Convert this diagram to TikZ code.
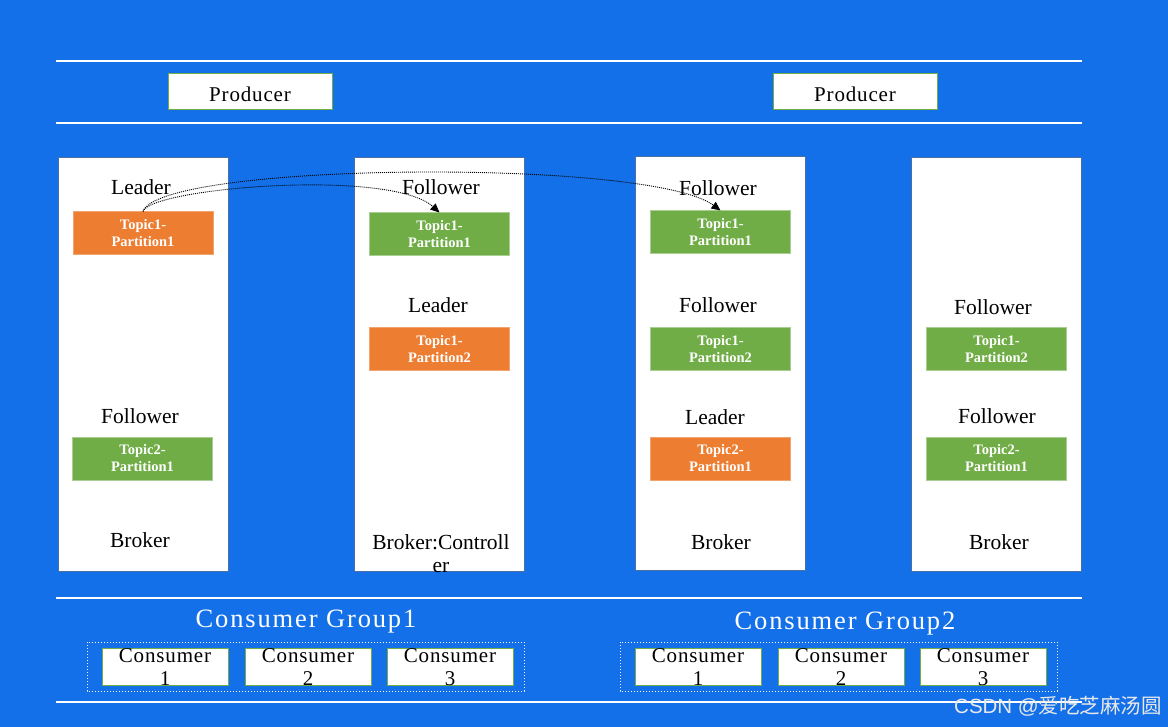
\documentclass[tikz,border=0pt]{standalone}
\usepackage{fontspec}
\setmainfont{Liberation Serif}
\newfontfamily\cjkfont{Noto Sans CJK SC}
\newfontfamily\wmfont{Liberation Sans}
\usetikzlibrary{arrows.meta}
\definecolor{bg}{HTML}{1470E8}
\definecolor{orangep}{HTML}{ED7D31}
\definecolor{greenp}{HTML}{70AD47}
\definecolor{brokerborder}{HTML}{4A6FA5}
\begin{document}
\begin{tikzpicture}[x=1pt,y=-1pt,
  broker/.style={draw=brokerborder,fill=white,line width=0.8pt,minimum width=170pt,minimum height=414pt,inner sep=0pt},
  part/.style={minimum width=140pt,minimum height=43pt,inner sep=0pt,text=white,font=\bfseries\fontsize{14.5}{17}\selectfont,align=center,line width=1pt},
  orangebox/.style={part,fill=orangep,draw=orangep!70!white},
  greenbox/.style={part,fill=greenp,draw=greenp!60!white},
  lbl/.style={font=\fontsize{21.5}{23}\selectfont,inner sep=0pt,align=center},
  clbl/.style={font=\fontsize{21}{23}\selectfont\addfontfeature{LetterSpace=4},inner sep=0pt,align=center},
  prod/.style={draw=greenp,fill=white,line width=1pt,minimum width=164pt,minimum height=36pt,inner sep=0pt},
  ptext/.style={font=\fontsize{21}{24}\selectfont\addfontfeature{LetterSpace=4},inner sep=0pt},
  cons/.style={draw=greenp,fill=white,line width=1pt,minimum width=126pt,minimum height=37pt,inner sep=0pt},
  sep/.style={white,line width=2.5pt},
  grp/.style={draw=white,dotted,line width=1pt},
  gtitle/.style={text=white,font=\fontsize{26.5}{28}\selectfont\addfontfeature{LetterSpace=7},inner sep=0pt},
  repl/.style={black,line width=0.9pt,dash pattern=on 1pt off 1pt,-{Triangle[length=9pt,width=8pt]}}
]
\fill[bg] (0,0) rectangle (1168,727);
\useasboundingbox (0,0) rectangle (1168,727);

% separator lines
\coordinate (l1a) at (56,61); \coordinate (l1b) at (1082,61);
\coordinate (l2a) at (56,123); \coordinate (l2b) at (1082,123);
\coordinate (l3a) at (56,598); \coordinate (l3b) at (1082,598);
\coordinate (l4a) at (56,702); \coordinate (l4b) at (1082,702);
\draw[sep] (l1a) -- (l1b);
\draw[sep] (l2a) -- (l2b);
\draw[sep] (l3a) -- (l3b);
\draw[sep] (l4a) -- (l4b);

% producers
\node[prod] (prod1) at (250,92) {};
\node[prod] (prod2) at (855,92) {};
\node[ptext] (prod1t) at (250,94) {Producer};
\node[ptext] (prod2t) at (855,94) {Producer};

% brokers
\node[broker] (b1) at (143,364) {};
\node[broker] (b2) at (439.5,364.5) {};
\node[broker] (b3) at (720.5,363) {};
\node[broker] (b4) at (996.5,364) {};

% broker 1
\node[lbl] (b1l1) at (141,187) {Leader};
\node[orangebox] (p11) at (143,233.5) {Topic1-\\Partition1};
\node[lbl] (b1l2) at (140,416) {Follower};
\node[greenbox] (p12) at (142.5,458.5) {Topic2-\\Partition1};
\node[lbl] (b1l3) at (140,540) {Broker};

% broker 2
\node[lbl] (b2l1) at (441,187) {Follower};
\node[greenbox] (p21) at (439.5,234.5) {Topic1-\\Partition1};
\node[lbl] (b2l2) at (438,305) {Leader};
\node[orangebox] (p22) at (439.5,349.5) {Topic1-\\Partition2};
\node[lbl] (b2l3) at (441,554) {Broker:Controll\\er};

% broker 3
\node[lbl] (b3l1) at (718,188) {Follower};
\node[greenbox] (p31) at (720.5,232.5) {Topic1-\\Partition1};
\node[lbl] (b3l2) at (718,305) {Follower};
\node[greenbox] (p32) at (720.5,349.5) {Topic1-\\Partition2};
\node[lbl] (b3l3) at (715,417) {Leader};
\node[orangebox] (p33) at (720.5,458.5) {Topic2-\\Partition1};
\node[lbl] (b3l4) at (721,542) {Broker};

% broker 4
\node[lbl] (b4l1) at (993,307) {Follower};
\node[greenbox] (p41) at (996.5,349.5) {Topic1-\\Partition2};
\node[lbl] (b4l2) at (997,416) {Follower};
\node[greenbox] (p42) at (996.5,458.5) {Topic2-\\Partition1};
\node[lbl] (b4l3) at (999,542) {Broker};

% replication arrows
\draw[repl] (p11.north) .. controls (150,188) and (390,168) .. (p21.north);
\draw[repl] (p11.north) .. controls (160,162) and (650,158) .. (p31.north);

% consumer groups
\node[gtitle] (g1t) at (306,622) {Consumer Group1};
\node[gtitle] (g2t) at (845,624) {Consumer Group2};
\draw[grp] (87,642) rectangle (524,691);
\draw[grp] (620,642) rectangle (1057,691);

\node[cons] (c11) at (165,666.5) {};
\node[cons] (c12) at (308,666.5) {};
\node[cons] (c13) at (450,666.5) {};
\node[cons] (c21) at (698,666.5) {};
\node[cons] (c22) at (841,666.5) {};
\node[cons] (c23) at (983,666.5) {};
\foreach \c/\n in {c11/1,c12/2,c13/3,c21/1,c22/2,c23/3}{
  \node[clbl,anchor=north] at ([yshift=-1pt]\c.north) {Consumer\\\n};
}

% watermark
\node[text=white!82!gray,font=\fontsize{20.5}{22}\selectfont\addfontfeature{LetterSpace=2},inner sep=0pt,anchor=east] (wm) at (1162,706) {\wmfont CSDN @\cjkfont 爱吃芝麻汤圆};
\end{tikzpicture}
\end{document}
